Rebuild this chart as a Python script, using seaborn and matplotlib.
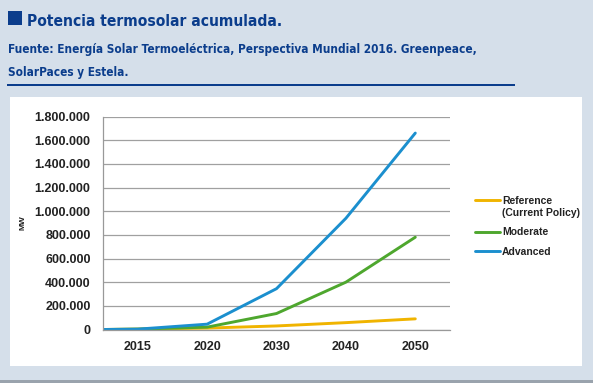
import numpy as np
import pandas as pd
import seaborn as sns
import matplotlib.pyplot as plt
from matplotlib.patches import Rectangle
from matplotlib.ticker import FuncFormatter

# data (MW)
years = ["2015", "2020", "2030", "2040", "2050"]
reference = [3000, 12000, 30000, 58000, 90000]
moderate = [3000, 20000, 135000, 400000, 780000]
advanced = [3000, 45000, 345000, 940000, 1660000]
base_value = 0  # lines start at the left edge of the axis
series_names = ["Reference\n(Current Policy)", "Moderate", "Advanced"]
colors = ["#f0b400", "#4ea72e", "#1b8fce"]

rows = []
for name, vals in zip(series_names, [reference, moderate, advanced]):
    rows.append({"x": -0.5, "MW": base_value, "serie": name})
    for i, v in enumerate(vals):
        rows.append({"x": i, "MW": v, "serie": name})
df = pd.DataFrame(rows)

sns.set_style("white")
plt.rcParams["font.family"] = ["Liberation Sans", "DejaVu Sans"]

bg = "#d5dfea"
navy = "#0b3d8c"
fig = plt.figure(figsize=(5.93, 3.83), dpi=100, facecolor=bg)

# white panel and header decorations
fig.patches.append(Rectangle((10 / 593, 1 - 366 / 383), 572 / 593, 269 / 383,
                             transform=fig.transFigure, facecolor="white",
                             edgecolor="none", zorder=-5))
fig.patches.append(Rectangle((8 / 593, 1 - 25 / 383), 14 / 593, 14 / 383,
                             transform=fig.transFigure, facecolor=navy,
                             edgecolor="none", zorder=-4))
fig.patches.append(Rectangle((7 / 593, 1 - 86 / 383), 508 / 593, 2 / 383,
                             transform=fig.transFigure, facecolor=navy,
                             edgecolor="none", zorder=-4))
fig.patches.append(Rectangle((0, 0), 1, 3 / 383, transform=fig.transFigure,
                             facecolor="#9aa3ad", edgecolor="none", zorder=-4))

head = dict(family=["DejaVu Sans"], stretch="condensed", fontweight="bold", color=navy,
            va="baseline")
fig.text(27 / 593, 1 - 26 / 383, "Potencia termosolar acumulada.", fontsize=11.2, **head)
fig.text(8 / 593, 1 - 53 / 383,
         "Fuente: Energía Solar Termoeléctrica, Perspectiva Mundial 2016. Greenpeace,",
         fontsize=8.5, **head)
fig.text(8 / 593, 1 - 76 / 383, "SolarPaces y Estela.", fontsize=8.5, **head)

ax = fig.add_axes([103 / 593, 1 - 329.5 / 383, 347 / 593, 213 / 383])
ax.set_facecolor("white")
sns.lineplot(data=df, x="x", y="MW", hue="serie", palette=colors,
             linewidth=2.1, ax=ax, legend=True)

ax.set_xlim(-0.5, len(years) - 0.5)
ax.set_ylim(0, 1800000)
ax.set_yticks(np.arange(0, 1800001, 200000))
ax.yaxis.set_major_formatter(FuncFormatter(lambda v, p: f"{int(v):,}".replace(",", ".")))
ax.set_xticks(range(len(years)))
ax.set_xticklabels(years)
ax.set_xticks(np.arange(-0.5, len(years)), minor=True)
ax.tick_params(axis="x", which="major", length=0, pad=8, labelsize=9, colors="#222222")
ax.tick_params(axis="x", which="minor", length=4, width=0.8, color="#999999", direction="out")
ax.tick_params(axis="y", length=3, width=0.8, color="#999999", pad=6, labelsize=9,
               labelcolor="#222222")
for lab in ax.get_xticklabels() + ax.get_yticklabels():
    lab.set_fontweight("bold")
ax.grid(axis="y", color="#a0a0a0", linewidth=0.9)
ax.set_axisbelow(True)
for s in ["top", "right"]:
    ax.spines[s].set_visible(False)
for s in ["left", "bottom"]:
    ax.spines[s].set_color("#999999")
    ax.spines[s].set_linewidth(0.9)
ax.set_xlabel("")
ax.set_ylabel("MW", fontsize=6, fontweight="bold", color="#222222", labelpad=6)

handles, labels = ax.get_legend_handles_labels()
leg = ax.legend(handles, labels, loc="upper left", frameon=False,
                bbox_to_anchor=(466 / 593, 1 - 187 / 383), bbox_transform=fig.transFigure,
                handlelength=2.4, handletextpad=0.15, labelspacing=0.9,
                prop={"weight": "bold", "size": 7.5})
for t in leg.get_texts():
    t.set_color("#222222")
# put the first key line level with the first text line, as in the original
first = leg.legend_handles[0]
first.set_ydata(np.asarray(first.get_ydata()) + 5.5)

fig.savefig("out.png", dpi=100, facecolor=bg)
